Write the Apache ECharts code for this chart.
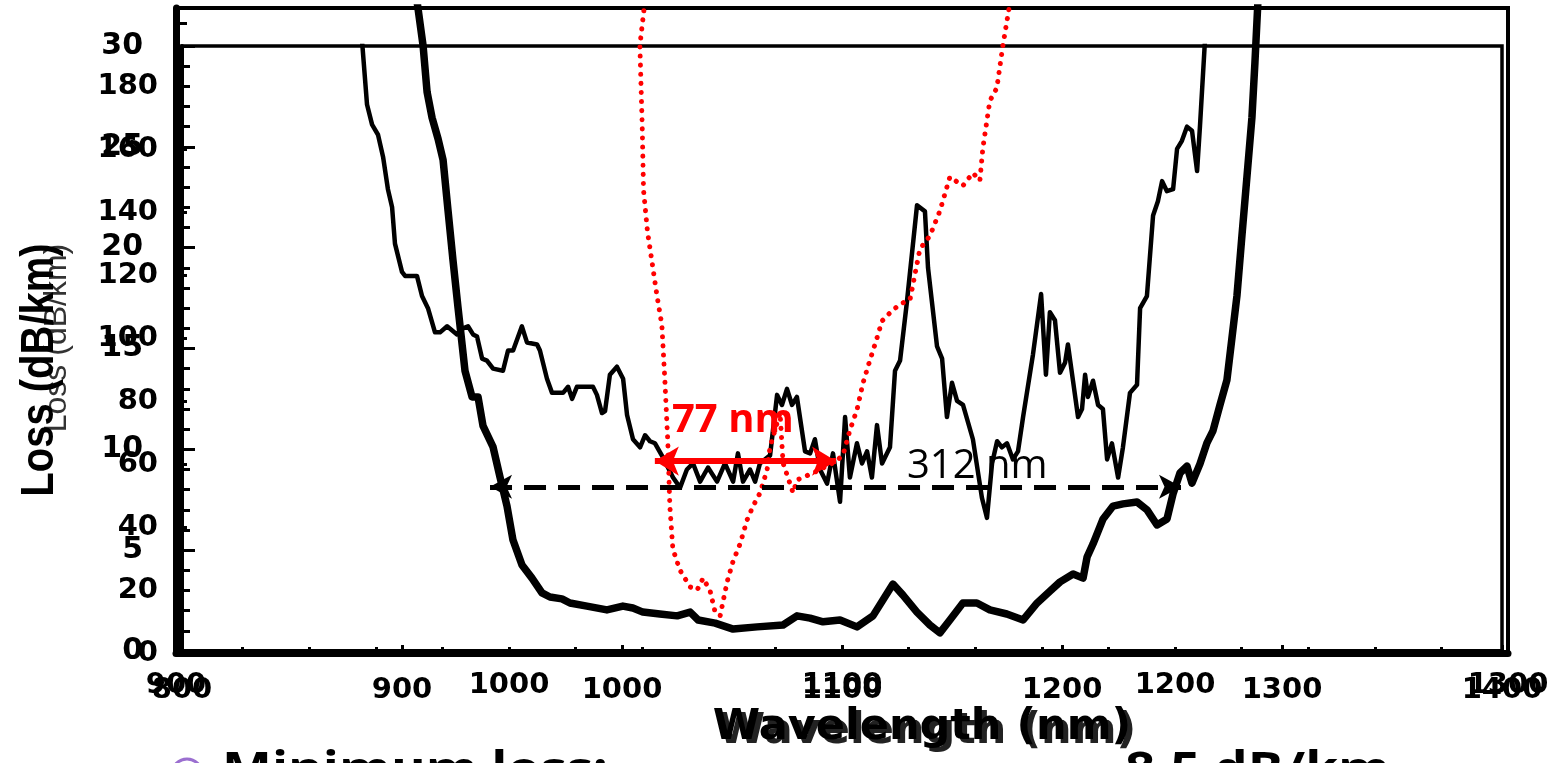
<!DOCTYPE html>
<html>
<head>
<meta charset="utf-8">
<script src="https://cdn.jsdelivr.net/npm/echarts@6/dist/echarts.min.js"></script>
<style>
html,body{margin:0;padding:0;background:#fff;}
#chart{width:1562px;height:763px;}
</style>
</head>
<body>
<div id="chart"></div>
<script>
// Thin solid curve (inner plot: 800-1400 nm, 0-30 dB/km)
const thinWl = [881.8,884.1,886.4,889.1,891.4,893.6,895.5,896.8,900.0,901.4,906.8,909.1,911.8,915.0,917.3,920.5,925.0,927.7,930.0,932.3,934.1,936.4,938.6,941.4,945.9,948.2,950.5,954.5,956.8,961.4,962.7,965.9,968.2,973.2,975.5,977.3,979.5,986.8,988.6,990.9,992.3,994.5,997.7,1000.5,1002.3,1005.0,1008.2,1010.5,1012.7,1015.0,1018.6,1023.2,1026.4,1029.5,1032.3,1035.5,1039.1,1043.2,1046.8,1050.5,1052.7,1055.0,1058.2,1060.5,1062.7,1067.3,1070.5,1072.7,1075.0,1077.3,1079.5,1083.2,1085.5,1087.7,1090.0,1093.2,1095.9,1099.1,1101.4,1103.6,1106.8,1109.1,1111.4,1113.6,1115.9,1118.2,1121.8,1124.1,1126.4,1129.5,1134.1,1137.7,1139.1,1143.2,1145.5,1147.7,1150.0,1152.3,1155.0,1159.5,1163.6,1165.9,1168.2,1170.5,1172.7,1175.0,1177.7,1180.0,1182.3,1186.8,1190.5,1192.7,1194.5,1196.8,1199.1,1201.4,1202.7,1205.0,1207.3,1209.1,1210.5,1211.8,1214.1,1216.4,1218.6,1220.5,1222.7,1225.5,1227.7,1230.9,1234.1,1235.5,1238.6,1241.4,1243.6,1245.5,1247.7,1250.5,1252.3,1254.5,1256.8,1259.1,1261.4,1262.7,1265.0];
const thinLoss = [30.3,27.1,26.1,25.6,24.5,22.9,22.0,20.2,18.8,18.6,18.6,17.6,17.0,15.8,15.8,16.1,15.7,16.0,16.1,15.7,15.6,14.5,14.4,14.0,13.9,14.9,14.9,16.1,15.3,15.2,14.9,13.5,12.8,12.8,13.1,12.5,13.1,13.1,12.7,11.8,11.9,13.7,14.1,13.5,11.7,10.5,10.1,10.7,10.4,10.3,9.6,8.6,8.1,9.0,9.3,8.4,9.1,8.4,9.3,8.4,9.8,8.4,9.0,8.4,9.3,9.7,12.7,12.2,13.0,12.2,12.6,9.9,9.8,10.5,9.0,8.3,9.8,7.4,11.6,8.6,10.3,9.3,9.9,8.6,11.2,9.3,10.1,13.9,14.4,17.3,22.1,21.8,19.0,15.1,14.5,11.6,13.3,12.4,12.2,10.5,7.6,6.6,9.3,10.4,10.1,10.3,9.5,9.9,11.6,14.7,17.7,13.7,16.8,16.4,13.8,14.3,15.2,13.4,11.6,12.0,13.7,12.6,13.4,12.2,12.0,9.5,10.3,8.6,10.1,12.8,13.2,17.0,17.6,21.6,22.3,23.3,22.8,22.9,24.9,25.3,26.0,25.8,23.8,26.0,30.3];

// Thick solid curve (outer plot: 900-1300 nm, 0-180 dB/km)
const thickWl = [972.4,974.2,975.4,976.9,978.7,980.2,981.7,983.2,984.7,986.8,988.9,990.7,992.2,995.2,997.3,999.4,1001.2,1003.9,1006.9,1009.9,1012.3,1015.9,1018.3,1023.4,1029.4,1034.2,1037.2,1040.2,1045.3,1050.5,1054.4,1056.8,1061.9,1067.3,1074.5,1082.3,1086.5,1090.4,1094.3,1099.4,1104.5,1109.3,1115.3,1118.3,1122.5,1126.4,1129.4,1132.4,1136.3,1140.5,1144.4,1149.5,1154.4,1158.6,1162.5,1165.5,1169.4,1172.4,1173.6,1175.4,1178.4,1181.4,1184.4,1188.6,1191.6,1194.6,1197.6,1199.4,1201.5,1203.6,1205.1,1207.5,1209.6,1211.4,1213.5,1215.6,1217.1,1218.6,1220.1,1221.6,1223.1,1224.0,1224.9];
const thickLoss = [207.0,193.0,178.3,170.1,163.4,156.7,140.5,124.6,109.7,89.6,81.4,81.4,72.2,65.5,55.9,46.7,35.9,28.0,23.8,19.1,17.8,17.2,15.9,14.9,13.7,14.9,14.3,13.0,12.4,11.8,13.0,10.5,9.5,7.6,8.3,8.9,11.8,11.1,9.9,10.5,8.3,11.8,21.9,18.4,13.0,8.9,6.4,10.5,15.9,15.9,13.7,12.4,10.5,15.9,19.7,22.6,25.1,23.8,30.5,34.7,42.6,46.7,47.4,48.0,45.5,40.7,42.6,50.5,57.2,59.4,54.0,60.1,66.8,70.6,78.8,86.8,100.1,113.5,132.6,151.3,170.1,187.6,207.0];

// Red dotted curve (outer plot)
const redWl = [1040.8,1039.3,1040.0,1040.4,1041.6,1042.9,1044.4,1045.9,1046.8,1047.7,1048.3,1049.2,1051.3,1054.4,1056.5,1058.3,1060.4,1061.9,1063.4,1065.5,1067.3,1069.4,1071.5,1073.3,1075.4,1077.5,1078.4,1081.4,1082.3,1085.3,1086.5,1091.9,1097.9,1100.3,1102.4,1104.5,1106.3,1108.4,1110.5,1112.0,1114.4,1117.4,1120.4,1123.4,1126.4,1129.4,1132.4,1136.3,1139.3,1141.4,1142.3,1144.4,1146.5,1148.3,1150.5];
const redLoss = [207.0,193.0,167.5,147.1,133.8,124.6,113.8,104.3,86.8,66.8,46.7,33.1,26.4,21.0,20.0,23.8,19.7,13.0,11.8,22.6,29.2,34.7,42.3,46.7,50.9,58.2,65.5,76.3,60.4,50.9,55.0,57.5,60.7,62.9,70.9,77.3,85.8,93.1,100.1,105.5,108.1,110.9,112.2,128.4,132.6,140.5,151.3,148.5,152.6,150.1,160.5,175.5,179.6,193.0,207.0];

// Bandwidth annotations (outer plot data coordinates)
const redBand = [1043.8, 1098.2, 61.0];   // 77 nm
const blackBand = [994.3, 1201.8, 52.8];  // 312 nm

const pair = (xs, ys) => xs.map((x, i) => [x, ys[i]]);

const labelFont = {color:'#000', fontFamily:'DejaVu Sans', fontWeight:'bold', fontSize:29};
const plain = v => String(v);

const chart = echarts.init(document.getElementById('chart'), null, {renderer:'canvas'});
chart.setOption({
  animation:false,
  backgroundColor:'#ffffff',
  grid:[
    {left:176, top:8, width:1332, height:645, show:true, borderColor:'#000', borderWidth:4, backgroundColor:'transparent'},
    {left:182, top:46, width:1320, height:605, show:true, borderColor:'#000', borderWidth:3.5, backgroundColor:'transparent'}
  ],
  xAxis:[
    {gridIndex:0, type:'value', min:900, max:1300, interval:100,
     axisLine:{lineStyle:{color:'#000', width:7}},
     axisTick:{inside:true, length:6, lineStyle:{color:'#000', width:3}},
     minorTick:{show:true, splitNumber:5, length:6, lineStyle:{color:'#000', width:3}},
     splitLine:{show:false},
     axisLabel:Object.assign({margin:18, formatter:plain}, labelFont)},
    {gridIndex:1, type:'value', min:800, max:1400, interval:100,
     axisLine:{lineStyle:{color:'#000', width:4}},
     axisTick:{inside:true, length:6, lineStyle:{color:'#000', width:3}},
     splitLine:{show:false},
     axisLabel:Object.assign({margin:25, formatter:plain}, labelFont)}
  ],
  yAxis:[
    {gridIndex:0, type:'value', min:0, max:205, interval:20,
     axisLine:{lineStyle:{color:'#000', width:7}},
     axisTick:{inside:true, length:11, lineStyle:{color:'#000', width:3}},
     minorTick:{show:true, splitNumber:2, length:7, lineStyle:{color:'#000', width:3}},
     splitLine:{show:false},
     axisLabel:Object.assign({margin:18, formatter:v => (v > 180 ? '' : String(v))}, labelFont)},
    {gridIndex:1, type:'value', min:0, max:30, interval:5,
     axisLine:{lineStyle:{color:'#000', width:4}},
     axisTick:{inside:true, length:13, lineStyle:{color:'#000', width:3}},
     minorTick:{show:true, splitNumber:5, length:8, lineStyle:{color:'#000', width:3}},
     splitLine:{show:false},
     axisLabel:Object.assign({margin:39, formatter:plain}, labelFont, {fontSize:30})}
  ],
  series:[
    {type:'line', xAxisIndex:1, yAxisIndex:1, data:pair(thinWl, thinLoss), symbol:'none', smooth:false,
     lineStyle:{color:'#000', width:4.5, join:'round'}, silent:true, z:3},
    {type:'line', xAxisIndex:0, yAxisIndex:0, data:pair(thickWl, thickLoss), symbol:'none', smooth:false,
     lineStyle:{color:'#000', width:7.5, join:'round'}, silent:true, z:3,
     markLine:{silent:true, symbol:['arrow','arrow'], symbolSize:[18,22], label:{show:false},
       lineStyle:{color:'#000', width:5, type:[22,12]}, emphasis:{disabled:true},
       data:[[{coord:[blackBand[0], blackBand[2]]},{coord:[blackBand[1], blackBand[2]]}]]}},
    {type:'line', xAxisIndex:0, yAxisIndex:0, data:pair(redWl, redLoss), symbol:'none', smooth:false,
     lineStyle:{color:'#ff0000', width:5, type:[0.1,9], cap:'round'}, silent:true, z:4,
     markLine:{silent:true, symbol:['arrow','arrow'], symbolSize:[22,24], label:{show:false},
       lineStyle:{color:'#ff0000', width:6, type:'solid'}, emphasis:{disabled:true},
       data:[[{coord:[redBand[0], redBand[2]]},{coord:[redBand[1], redBand[2]]}]]}}
  ],
  graphic:[
    {type:'text', x:57, y:338, rotation:Math.PI/2, z:10,
     style:{text:'Loss (dB/km)', font:'normal 32px "Liberation Sans", Arial, sans-serif', fill:'#333', align:'center', verticalAlign:'middle'}},
    {type:'text', x:40, y:370, rotation:Math.PI/2, scaleY:1.15, z:11,
     style:{text:'Loss (dB/km)', font:'bold 40px "Liberation Sans", Arial, sans-serif', fill:'#000', align:'center', verticalAlign:'middle'}},
    {type:'text', x:927, y:732, z:10,
     style:{text:'Wavelength (nm)', font:'bold 43px "DejaVu Sans", sans-serif', fill:'#222', align:'center', verticalAlign:'middle'}},
    {type:'text', x:922, y:728, z:11,
     style:{text:'Wavelength (nm)', font:'bold 43px "DejaVu Sans", sans-serif', fill:'#000', align:'center', verticalAlign:'middle'}},
    {type:'text', x:672, y:421, z:12,
     style:{text:'77 nm', font:'bold 40px "Open Sans", sans-serif', fill:'#ff0000', align:'left', verticalAlign:'middle'}},
    {type:'text', x:907, y:467, z:12,
     style:{text:'312 nm', font:'normal 40px "Open Sans", sans-serif', fill:'#000', align:'left', verticalAlign:'middle'}},
    {type:'circle', shape:{cx:187, cy:774, r:15}, z:12,
     style:{fill:'none', stroke:'#9b6fd0', lineWidth:3}},
    {type:'text', x:222, y:772, scaleX:1.15, z:12,
     style:{text:'Minimum loss:', font:'bold 46px "Open Sans", sans-serif', fill:'#000', align:'left', verticalAlign:'middle'}},
    {type:'text', x:1125, y:772, scaleX:1.15, z:12,
     style:{text:'8.5 dB/km', font:'bold 46px "Open Sans", sans-serif', fill:'#000', align:'left', verticalAlign:'middle'}}
  ]
});
</script>
</body>
</html>
